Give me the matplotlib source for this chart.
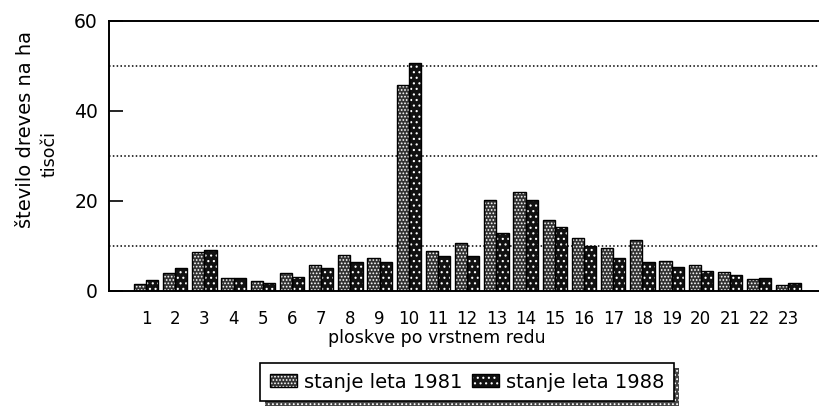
import numpy as np
import matplotlib.pyplot as plt
from matplotlib.patches import Patch, Rectangle
from matplotlib.legend_handler import HandlerTuple

# podatki odčitani s slike (tisoč dreves na ha)
ploskve = list(range(1, 24))
stanje_1981 = [1.5, 4.0, 8.7, 2.8, 2.3, 4.0, 5.8, 8.0, 7.3, 45.8, 8.8, 10.6,
               20.2, 22.0, 15.8, 11.8, 9.5, 11.3, 6.6, 5.7, 4.3, 2.6, 1.3]
stanje_1988 = [2.5, 5.1, 9.1, 2.8, 1.7, 3.1, 5.2, 6.5, 6.5, 50.6, 7.7, 7.8,
               13.0, 20.3, 14.3, 10.0, 7.3, 6.4, 5.3, 4.4, 3.5, 3.0, 1.7]
y_ticks = [0, 20, 40, 60]
mreza = [10, 30, 50]
oznake = ["stanje leta 1981", "stanje leta 1988"]

plt.rcParams["font.family"] = ["DejaVu Sans"]
plt.rcParams["hatch.linewidth"] = 0.8

fig = plt.figure(figsize=(8.2, 4.08), dpi=100)
ax = fig.add_axes([109 / 820, 1 - 291 / 408, 1 - 109 / 820, 270 / 408])

x = np.array(ploskve)
w = 0.42
vzorci = {"1981": ("#333333", "....."), "1988": ("#111111", "...")}

for y in mreza:
    ax.axhline(y, color="black", lw=1.1, ls=(0, (1, 1.5)), zorder=1)

rocaji = []
for pomik, vrednosti, kljuc in [(-w / 2, stanje_1981, "1981"), (w / 2, stanje_1988, "1988")]:
    barva, hatch = vzorci[kljuc]
    ax.bar(x + pomik, vrednosti, w, facecolor=barva, edgecolor="white",
           hatch=hatch, lw=0, zorder=2)
    ax.bar(x + pomik, vrednosti, w, fill=False, edgecolor="black", lw=1.0, zorder=3)
    rocaji.append((Patch(facecolor=barva, edgecolor="white", hatch=hatch, lw=0),
                   Patch(fill=False, edgecolor="black", lw=1.0)))

ax.set_xlim(1 - 37 / 29.2, 1 + (820 - 146) / 29.2)
ax.set_ylim(0, 60)
ax.set_yticks(y_ticks)
ax.set_xticks(x)
ax.set_xticklabels([str(p) for p in ploskve])
ax.tick_params(axis="y", direction="in", length=10, width=1.2, labelsize=13.5, pad=8)
ax.tick_params(axis="x", length=0, labelsize=12, pad=14)
ax.spines["right"].set_visible(False)
for s in ["left", "top", "bottom"]:
    ax.spines[s].set_linewidth(1.4)

fig.text(437 / 820, 1 - 338 / 408, "ploskve po vrstnem redu", ha="center", va="center", fontsize=12.5)
fig.text(26 / 820, 1 - 129 / 408, "število dreves na ha", rotation=90, ha="center", va="center", fontsize=14)
fig.text(50 / 820, 1 - 154 / 408, "tisoči", rotation=90, ha="center", va="center", fontsize=12.5)

leg = fig.legend(rocaji, oznake, handler_map={tuple: HandlerTuple(ndivide=1, pad=0)},
                 loc="center", bbox_to_anchor=(467 / 820, 1 - 382 / 408), ncol=2,
                 fontsize=14, frameon=True, fancybox=False, framealpha=1,
                 edgecolor="black", handlelength=1.4, handleheight=0.6,
                 handletextpad=0.35, columnspacing=0.5, borderpad=0.5, borderaxespad=0)
leg.get_frame().set_linewidth(1.2)

fig.canvas.draw()
bb = leg.get_frame().get_window_extent().transformed(fig.transFigure.inverted())
dx, dy = 5 / 820, 5 / 408
fig.patches.append(Rectangle((bb.x0 + dx, bb.y0 - dy), bb.width, bb.height,
                             transform=fig.transFigure, facecolor="#444444",
                             edgecolor="white", hatch="....", lw=0, zorder=1))

fig.savefig("out.png", dpi=100)
